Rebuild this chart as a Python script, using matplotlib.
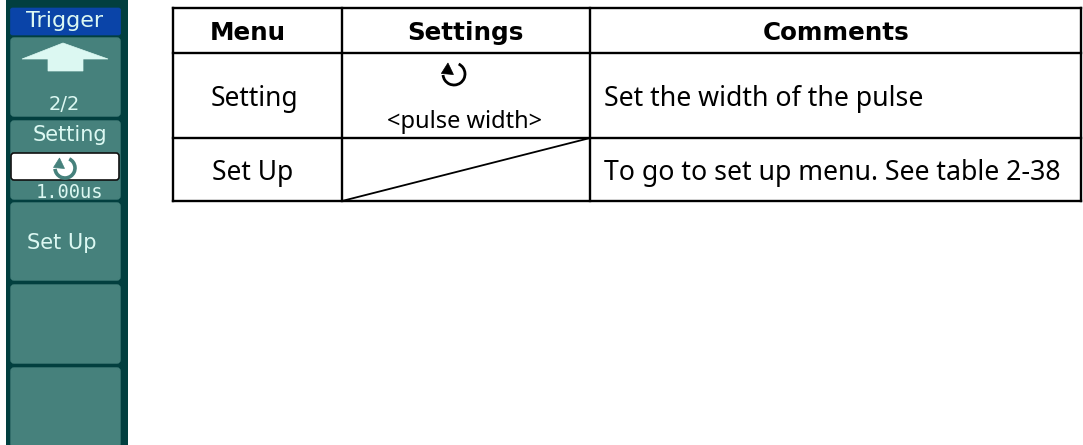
# Oscilloscope menu panel and its settings table
import matplotlib
matplotlib.use('Agg')
import matplotlib.pyplot as plt
from matplotlib.patches import Arc, FancyBboxPatch, Polygon, Rectangle

# Table text
headers = ['Menu', 'Settings', 'Comments']
menu = ['Setting', 'Set Up']
settings = ['<pulse width>', '']
comments = ['Set the width of the pulse', 'To go to set up menu. See table 2-38']

# Softkey panel text
panel_title = 'Trigger'
page_label = '2/2'
setting_label = 'Setting'
setting_value = '1.00us'
setup_label = 'Set Up'

DARK = '#023f3f'
TEAL = '#46817c'
LIGHT = '#dcf8f2'

fig = plt.figure(figsize=(10.83, 4.45), dpi=100)
ax = fig.add_axes([0, 0, 1, 1])
ax.set_xlim(0, 1083)
ax.set_ylim(445, 0)
ax.axis('off')


def button(y0, y1, color=TEAL):
    ax.add_patch(FancyBboxPatch((11, y0 + 1), 109, y1 - y0 - 2, boxstyle='round,pad=0,rounding_size=3',
                                fc=color, ec=color, lw=1))


def rotate_icon(cx, cy, r, color, lw):
    # y axis points down, so theta runs clockwise here
    ax.add_patch(Arc((cx, cy), 2 * r, 2 * r, theta1=-65, theta2=175, color=color, lw=lw))
    ax.add_patch(Polygon([[cx - 0.55 * r, cy - 1.0 * r], [cx - 1.15 * r, cy - 0.05 * r], [cx - 0.05 * r, cy + 0.05 * r]],
                         fc=color, ec=color, lw=0.5))


# Left panel
ax.add_patch(Rectangle((6, 0), 122, 445, fc=DARK, ec='none'))
ax.add_patch(FancyBboxPatch((10.5, 8), 110, 27, boxstyle='round,pad=0,rounding_size=2', fc='#0a44a8', ec='#0a44a8', lw=0.5))
ax.text(65, 21, panel_title, color=LIGHT, fontsize=16, ha='center', va='center', family='DejaVu Sans')

button(37, 117)
button(120, 200)
button(202, 281)
button(284, 364)
button(367, 448)

# Up arrow
ax.add_patch(Polygon([[22, 59], [63, 43], [108, 59], [83, 59], [83, 71], [48, 71], [48, 59]], fc=LIGHT, ec=LIGHT, lw=0.5))
ax.text(64, 105, page_label, color=LIGHT, fontsize=14, ha='center', va='center', family='DejaVu Sans')
ax.text(70, 135, setting_label, color=LIGHT, fontsize=15, ha='center', va='center', family='DejaVu Sans')

ax.add_patch(FancyBboxPatch((11, 153), 108, 27, boxstyle='round,pad=0,rounding_size=3', fc='white', ec='#111111', lw=1.2))
rotate_icon(65, 168, 10, TEAL, 2.6)
ax.text(69, 192, setting_value, color=LIGHT, fontsize=13.5, ha='center', va='center', family='DejaVu Sans Mono')
ax.text(62, 243, setup_label, color=LIGHT, fontsize=15, ha='center', va='center', family='DejaVu Sans')

# Table grid
x_lines = [173, 342, 590, 1081]
y_lines = [8, 53, 138, 201]
for x in x_lines:
    ax.plot([x, x], [y_lines[0], y_lines[-1]], color='black', lw=1.7, solid_capstyle='projecting')
for y in y_lines:
    ax.plot([x_lines[0], x_lines[-1]], [y, y], color='black', lw=1.7, solid_capstyle='projecting')
ax.plot([x_lines[1], x_lines[2]], [y_lines[3], y_lines[2]], color='black', lw=1.3)

# Table text
header_x = [248, 465, 836]
for i, h in enumerate(headers):
    ax.text(header_x[i], 40, h, fontsize=17.7, fontweight='bold', ha='center', va='baseline', family='DejaVu Sans')

text_y = [106, 180]
menu_x = [254, 253]
for i in range(2):
    ax.text(menu_x[i], text_y[i], menu[i], fontsize=19, ha='center', va='baseline', family='Noto Sans')
    ax.text(604, text_y[i], comments[i], fontsize=19.2, ha='left', va='baseline', family='Noto Sans')

ax.text(465, 128, settings[0], fontsize=17, ha='center', va='baseline', family='Noto Sans')
rotate_icon(454, 74, 11, 'black', 2)

fig.savefig('out.png', dpi=100)
